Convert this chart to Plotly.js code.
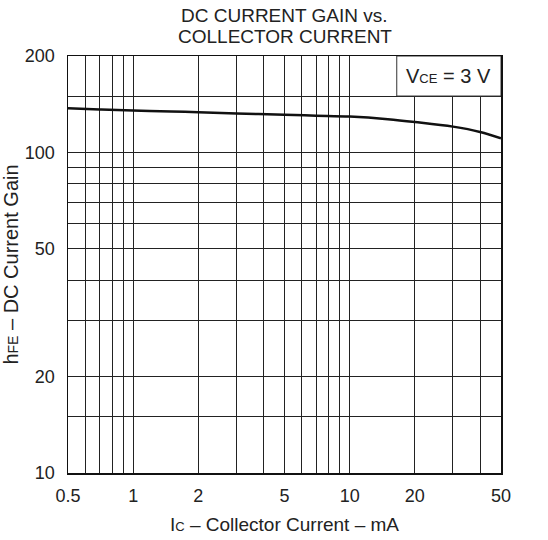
<!DOCTYPE html>
<html><head><meta charset="utf-8">
<script src="https://cdn.plot.ly/plotly-3.0.1.min.js"></script>
<style>html,body{margin:0;padding:0;background:#fff}#chart{width:548px;height:540px}</style>
</head><body><div id="chart"></div>
<script>
// Collector current (mA) and DC current gain hFE
const collectorCurrent = [0.5, 0.7, 1, 1.5, 2, 3, 5, 7, 10, 15, 20, 30, 40, 50];
const dcGain = [137.3, 136.2, 135.1, 134.2, 133.6, 132.4, 131.2, 130.3, 129.4, 127.0, 124.5, 120.4, 115.9, 110.7];

const xGridVals = [0.5,0.6,0.7,0.8,0.9,1,2,3,4,5,6,7,8,9,10,20,30,40,50];
const xLabeled = [0.5,1,2,5,10,20,50];
const yGridVals = [10,15,20,30,40,50,60,70,80,90,100,150,200];
const yLabeled = [10,20,50,100,200];
const titleLines = ['DC CURRENT GAIN vs.', 'COLLECTOR CURRENT'];

const fam = '"Liberation Sans", Arial, sans-serif';
const xText = xGridVals.map(v => xLabeled.includes(v) ? String(v) : '');
const yText = yGridVals.map(v => yLabeled.includes(v) ? String(v) : '');

const trace = {
  x: collectorCurrent, y: dcGain, type: 'scatter', mode: 'lines',
  line: {color: '#111', width: 2.5, shape: 'spline'}, hoverinfo: 'skip'
};

const layout = {
  width: 548, height: 540,
  margin: {l: 68, r: 47, t: 56, b: 67},
  paper_bgcolor: '#fff', plot_bgcolor: '#fff',
  showlegend: false,
  font: {family: fam, color: '#222', size: 18},
  xaxis: {
    type: 'log', range: [Math.log10(0.5), Math.log10(50)],
    tickmode: 'array', tickvals: xGridVals, ticktext: xText,
    showgrid: true, gridcolor: '#222', gridwidth: 1,
    showline: true, linecolor: '#111', linewidth: 1.5, mirror: true,
    ticks: '', ticklabelstandoff: 6, zeroline: false,
    tickfont: {family: fam, size: 18, color: '#222'},
    title: {text: 'I<span style="font-size:13px">C</span> – Collector Current – mA', standoff: 12,
            font: {family: fam, size: 19, color: '#222'}}
  },
  yaxis: {
    type: 'log', range: [1, Math.log10(200)],
    tickmode: 'array', tickvals: yGridVals, ticktext: yText,
    showgrid: true, gridcolor: '#222', gridwidth: 1,
    showline: true, linecolor: '#111', linewidth: 1.5, mirror: true,
    ticks: '', ticklabelstandoff: 8, zeroline: false,
    tickfont: {family: fam, size: 18, color: '#222'},
    title: {text: 'h<span style="font-size:14px">FE</span> – DC Current Gain', standoff: 2,
            font: {family: fam, size: 20, color: '#222'}}
  },
  shapes: [{
    type: 'rect', xref: 'x', yref: 'y', x0: 16.5, x1: 50, y0: 150, y1: 200,
    fillcolor: '#fff', line: {color: '#333', width: 1}, layer: 'above'
  }],
  annotations: [{
    xref: 'x', yref: 'y', x: Math.log10(28.5), y: Math.log10(173), showarrow: false,
    text: 'V<span style="font-size:13px">CE</span> = 3 V',
    font: {family: fam, size: 20, color: '#222'}, xanchor: 'center', yanchor: 'middle'
  }].concat(titleLines.map((t, i) => ({
    xref: 'paper', yref: 'paper', x: 0.5, y: 1, yshift: 41 - 21 * i, xanchor: 'center', yanchor: 'middle',
    showarrow: false, text: t, font: {family: fam, size: 19, color: '#222'}
  })))
};

Plotly.newPlot('chart', [trace], layout, {displayModeBar: false, staticPlot: true});
</script></body></html>
